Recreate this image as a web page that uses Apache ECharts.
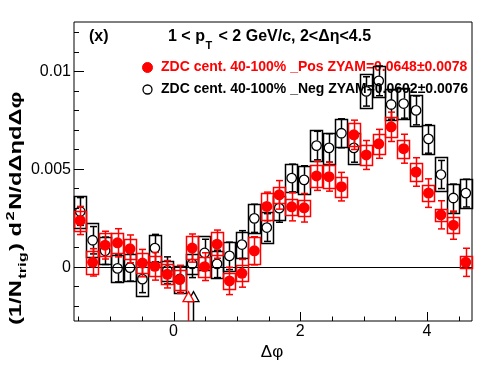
<!DOCTYPE html>
<html><head><meta charset="utf-8">
<script src="https://cdn.jsdelivr.net/npm/echarts@6/dist/echarts.min.js"></script>
<style>html,body{margin:0;padding:0;background:#fff}#c{width:496px;height:374px}</style>
</head><body><div id="c"></div>
<script>
// ---- data ----
const phi = [-1.4726,-1.2763,-1.0799,-0.8836,-0.6872,-0.4909,-0.2945,-0.0982,0.0982,0.2945,0.4909,0.6872,0.8836,1.0799,1.2763,1.4726,1.6690,1.8653,2.0617,2.2580,2.4544,2.6507,2.8471,3.0434,3.2398,3.4361,3.6325,3.8288,4.0252,4.2215,4.4179,4.6142];
const binWidth = 0.19635;
const posY = [0.00236,0.00022,0.0011,0.00122,0.00091,0.00018,0.00002,-0.00039,-0.00066,0.00095,0.0,0.00115,-0.00073,-0.00034,0.00081,0.00308,0.00367,0.00306,0.00301,0.00464,0.0046,0.00409,0.00674,0.00571,0.00628,0.00715,0.00603,0.00484,0.00376,0.00265,0.00212,0.00022];
const posStat = [0.00072,0.0007,0.00071,0.00072,0.00071,0.0007,0.00071,0.0007,0.00071,0.00072,0.00071,0.00072,0.0007,0.00071,0.00072,0.00073,0.00073,0.00072,0.00073,0.00074,0.00074,0.00073,0.00075,0.00074,0.00074,0.00075,0.00074,0.00073,0.00073,0.00072,0.00072,0.00072];
const posSys = [0.0005,0.0006,0.0006,0.0005,0.0005,0.0005,0.0005,0.0005,0.0005,0.0006,0.0005,0.0006,0.0004,0.0004,0.00068,0.00068,0.0004,0.0004,0.0004,0.00055,0.00058,0.0005,0.00058,0.0005,0.0005,0.0005,0.00046,0.00045,0.0004,0.0003,0.0004,0.0003];
const negY = [0.00282,0.00135,0.00081,-0.00009,-0.00005,-0.00064,0.00095,-0.00019,-0.00063,0.00014,0.0007,0.00014,0.00055,0.00113,0.00247,0.002,0.00299,0.00453,0.00444,0.00619,0.00607,0.00682,0.00607,0.00896,0.0095,0.00829,0.00834,0.00799,0.00653,0.00471,0.00351,0.00376];
const negStat = [0.00071,0.0007,0.0007,0.00069,0.00069,0.00069,0.0007,0.00069,0.00069,0.0007,0.0007,0.0007,0.0007,0.00071,0.00072,0.00071,0.00072,0.00071,0.00072,0.00073,0.00073,0.00074,0.00073,0.00075,0.00076,0.00075,0.00075,0.00074,0.00073,0.00072,0.00071,0.00071];
const negSys = [0.00081,0.00088,0.00068,0.00068,0.00068,0.00088,0.00068,0.0005,0.00068,0.0005,0.00088,0.00068,0.00073,0.00066,0.00075,0.00078,0.00062,0.00071,0.00071,0.00078,0.00078,0.00072,0.00078,0.00088,0.00078,0.00078,0.00078,0.00078,0.00073,0.00088,0.00073,0.00073];
const zyamArrowX = [0.30, 0.235];   // neg, pos
const zyamArrowTip = -0.00128;
const xMajorTicks = [0, 2, 4];
const xMajorLabels = ['0', '2', '4'];
const xMinorTicks = [-1.5,-1,-0.5,0.5,1,1.5,2.5,3,3.5,4.5];
const yMajorTicks = [0, 0.005, 0.01];
const yMajorLabels = ['0', '0.005', '0.01'];
const yMinorTicks = [-0.002,-0.001,0.001,0.002,0.003,0.004,0.006,0.007,0.008,0.009,0.011,0.012];
const xMin = -1.5708, xMax = 4.7124, yMin = -0.00278, yMax = 0.01251;

const RED = '#ff0000', BLK = '#000000';
const FF = '"Liberation Sans", Arial, Helvetica, sans-serif';
const ctx = document.createElement('canvas').getContext('2d');
function tw(t, f){ ctx.font = f; return ctx.measureText(t).width; }

function zip3(a,b,c){ return a.map((v,i)=>[v,b[i],c[i]]); }

function boxSeries(y, sys, color, z){
  return { type:'custom', z:z, silent:true, data: zip3(phi, y, sys), clip:false,
    renderItem(params, api){
      const x = api.value(0), v = api.value(1), s = api.value(2);
      const p1 = api.coord([x - binWidth/2, v + s]);
      const p2 = api.coord([x + binWidth/2, v - s]);
      return { type:'rect', shape:{x:Math.round(p1[0])+0.5, y:Math.round(p1[1])+0.5, width:Math.round(p2[0]-p1[0]), height:Math.round(p2[1]-p1[1])},
        style:{fill:'none', stroke:color, lineWidth:1.5} };
    }};
}
function errSeries(y, err, color, r, z){
  return { type:'custom', z:z, silent:true, data: zip3(phi, y, err), clip:false,
    renderItem(params, api){
      const x = api.value(0), v = api.value(1), e = api.value(2);
      const c = api.coord([x, v]); const t = api.coord([x, v + e]); const b = api.coord([x, v - e]);
      const cx = Math.round(c[0]) + 0.5;
      const st = {stroke:color, lineWidth:1.5};
      const ch = [];
      if (c[1] - r > t[1]) ch.push({type:'line', shape:{x1:cx, y1:t[1], x2:cx, y2:c[1]-r}, style:st});
      if (c[1] + r < b[1]) ch.push({type:'line', shape:{x1:cx, y1:c[1]+r, x2:cx, y2:b[1]}, style:st});
      ch.push({type:'line', shape:{x1:cx-3.5, y1:t[1], x2:cx+3.5, y2:t[1]}, style:st});
      ch.push({type:'line', shape:{x1:cx-3.5, y1:b[1], x2:cx+3.5, y2:b[1]}, style:st});
      return {type:'group', children: ch};
    }};
}

const tickData = [];
xMajorTicks.forEach((v,i)=>tickData.push([v, 1, 0, i]));
xMinorTicks.forEach(v=>tickData.push([v, 0, 0, -1]));
yMajorTicks.forEach((v,i)=>tickData.push([v, 1, 1, i]));
yMinorTicks.forEach(v=>tickData.push([v, 0, 1, -1]));

const tickFont = '16px ' + FF;
const ticksSeries = { type:'custom', z:20, silent:true, clip:false, data: tickData,
  renderItem(params, api){
    const v = api.value(0), major = api.value(1), ax = api.value(2), li = api.value(3);
    const st = {stroke:BLK, lineWidth:1};
    const ch = [];
    if (ax === 0) {
      const p = api.coord([v, yMin]);
      const x = Math.round(p[0]) + 0.5;
      ch.push({type:'line', shape:{x1:x, y1:p[1], x2:x, y2:p[1] - (major ? 9 : 4.5)}, style:st});
      if (major) ch.push({type:'text', style:{text:xMajorLabels[li], x:p[0], y:p[1]+11, font:tickFont, fill:BLK, align:'center', verticalAlign:'middle', textAlign:'center', textVerticalAlign:'middle'}});
    } else {
      const p = api.coord([xMin, v]);
      const y = Math.round(p[1]) + 0.5;
      ch.push({type:'line', shape:{x1:p[0], y1:y, x2:p[0] + (major ? 10 : 5), y2:y}, style:st});
      if (major) ch.push({type:'text', style:{text:yMajorLabels[li], x:p[0]-3, y:p[1]+0.5, font:tickFont, fill:BLK, align:'right', verticalAlign:'middle', textAlign:'right', textVerticalAlign:'middle'}});
    }
    return {type:'group', children: ch};
  }};

const zeroLine = { type:'custom', z:1, silent:true, data:[[0]], clip:false,
  renderItem(params, api){
    const a = api.coord([xMin, 0]), b = api.coord([xMax, 0]);
    const y = Math.round(a[1]) + 0.5;
    return {type:'line', shape:{x1:a[0], y1:y, x2:b[0], y2:y}, style:{stroke:BLK, lineWidth:1}};
  }};

function arrowSeries(xv, color, z){
  return { type:'custom', z:z, silent:true, clip:false, data:[[xv, zyamArrowTip]],
    renderItem(params, api){
      const tip = api.coord([api.value(0), api.value(1)]);
      const bot = api.coord([api.value(0), yMin]);
      const x = Math.round(tip[0]) + 0.5;
      return {type:'group', children:[
        {type:'line', shape:{x1:x, y1:tip[1]+10, x2:x, y2:bot[1]}, style:{stroke:color, lineWidth:1.5}},
        {type:'polygon', shape:{points:[[x, tip[1]], [x-5.5, tip[1]+10], [x+5.5, tip[1]+10]]}, style:{fill:'#fff', stroke:color, lineWidth:1.3}}
      ]};
    }};
}

// ---- text layout ----
const graphics = [];
graphics.push({type:'text', x:89, y:37, style:{text:'(x)', font:'bold 16px '+FF, fill:BLK, align:'left', verticalAlign:'middle'}});
(function(){
  const fb = 'bold 16px ' + FF, fs = 'bold 11px ' + FF;
  let x = 168; const yc = 37;
  const parts = [['1 < p', fb, 0], ['T', fs, 9], [' < 2 GeV/c, 2<\u0394\u03b7<4.5', fb, 0]];
  parts.forEach(p => {
    graphics.push({type:'text', x:x, y:yc + p[2], style:{text:p[0], font:p[1], fill:BLK, align:'left', verticalAlign:'middle'}});
    x += tw(p[0], p[1]) + (p[0]==='T' ? 2 : 0.5);
  });
})();
graphics.push({type:'circle', shape:{cx:147.5, cy:67.5, r:5}, style:{fill:RED, stroke:RED, lineWidth:1}});
graphics.push({type:'text', x:161, y:67.5, style:{text:'ZDC cent. 40-100% _Pos ZYAM=0.0648\u00b10.0078', font:'bold 14px '+FF, fill:RED, align:'left', verticalAlign:'middle'}});
graphics.push({type:'circle', shape:{cx:147.5, cy:89.5, r:4.5}, style:{fill:'none', stroke:BLK, lineWidth:1.3}});
graphics.push({type:'text', x:161, y:89.5, style:{text:'ZDC cent. 40-100% _Neg ZYAM=0.0602\u00b10.0076', font:'bold 14px '+FF, fill:BLK, align:'left', verticalAlign:'middle'}});
graphics.push({type:'text', x:272, y:352, style:{text:'\u0394\u03c6', font:'17px '+FF, fill:BLK, align:'center', verticalAlign:'middle'}});
(function(){
  const fb = 'bold 16px ' + FF, fs = 'bold 11px ' + FF;
  const parts = [['(1/N', fb, 0], ['trig', fs, 6], [') d', fb, 0], ['2', fs, -6], ['N/d\u0394\u03b7d\u0394\u03c6', fb, 0]];
  let x = 0; const ch = [];
  parts.forEach(p => {
    ch.push({type:'text', x:x, y:p[2], style:{text:p[0], font:p[1], fill:BLK, align:'left', verticalAlign:'middle'}});
    x += tw(p[0], p[1]) + 1;
  });
  const L = x;
  graphics.push({type:'group', x:17, y:325, rotation:Math.PI/2, scaleX: 235 / L, scaleY:1, children: ch});
})();

const chart = echarts.init(document.getElementById('c'), null, {renderer:'canvas'});
chart.setOption({
  animation:false,
  backgroundColor:'#fff',
  grid:{left:74, right:24, top:22, bottom:53, show:true, borderColor:BLK, borderWidth:1, backgroundColor:'#fff'},
  xAxis:{type:'value', min:xMin, max:xMax, show:false},
  yAxis:{type:'value', min:yMin, max:yMax, show:false},
  series:[
    zeroLine,
    boxSeries(negY, negSys, BLK, 2),
    errSeries(negY, negStat, BLK, 5, 3),
    { type:'scatter', z:4, silent:true, data: phi.map((x,i)=>[x, negY[i]]), symbol:'circle', symbolSize:9.5,
      itemStyle:{color:'rgba(0,0,0,0)', borderColor:BLK, borderWidth:1.3, opacity:1} },
    boxSeries(posY, posSys, RED, 5),
    errSeries(posY, posStat, RED, 5, 6),
    { type:'scatter', z:7, silent:true, data: phi.map((x,i)=>[x, posY[i]]), symbol:'circle', symbolSize:11,
      itemStyle:{color:RED, borderColor:RED, borderWidth:0, opacity:1} },
    arrowSeries(zyamArrowX[0], BLK, 8),
    arrowSeries(zyamArrowX[1], RED, 9),
    ticksSeries
  ],
  graphic: graphics
});
</script>
</body></html>
